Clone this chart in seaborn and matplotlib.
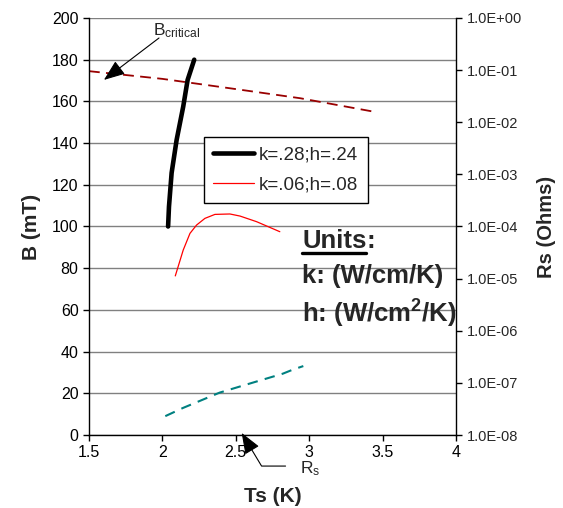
import matplotlib
matplotlib.use("Agg")
import matplotlib.pyplot as plt
import seaborn as sns
from matplotlib.lines import Line2D
from matplotlib.ticker import FixedLocator, FuncFormatter, NullLocator

# --- data ---
# k=.28;h=.24 (left axis, B in mT)
ts_k28 = [2.039, 2.045, 2.063, 2.097, 2.142, 2.172, 2.217]
b_k28 = [100.0, 109.5, 125.7, 141.5, 157.5, 170.3, 180.0]

# k=.06;h=.08 (left axis)
ts_k06 = [2.088, 2.142, 2.188, 2.233, 2.29, 2.358, 2.46, 2.529, 2.642, 2.80]
b_k06 = [76.3, 88.7, 96.7, 100.7, 103.9, 105.8, 106.0, 105.0, 102.3, 97.5]

# B critical (left axis)
ts_bc = [1.5, 2.0, 2.5, 2.94, 3.46]
b_bc = [174.5, 170.8, 165.9, 161.5, 154.8]

# Rs (right axis, Ohms)
ts_rs = [2.02, 2.14, 2.39, 2.60, 2.82, 2.89, 2.96]
rs = [2.3e-8, 3.3e-8, 6.5e-8, 9.8e-8, 1.5e-7, 1.8e-7, 2.1e-7]

x_ticks = [1.5, 2, 2.5, 3, 3.5, 4]
x_labels = ["1.5", "2", "2.5", "3", "3.5", "4"]
b_ticks = list(range(0, 201, 20))
rs_ticks = [1e-8, 1e-7, 1e-6, 1e-5, 1e-4, 1e-3, 1e-2, 1e-1, 1e0]

sns.set_style("ticks")
plt.rcParams["font.family"] = ["Liberation Sans", "DejaVu Sans"]
plt.rcParams["mathtext.default"] = "regular"

fig = plt.figure(figsize=(5.63, 5.08), dpi=100)
ax = fig.add_axes([0.158, 0.1437, 0.652, 0.8209])
ax2 = ax.twinx()

# --- left axis curves ---
sns.lineplot(x=ts_bc, y=b_bc, ax=ax, color="#990000", lw=1.3,
             linestyle=(0, (6, 3.5)), sort=False, estimator=None)
sns.lineplot(x=ts_k28, y=b_k28, ax=ax, color="black", lw=3.3,
             sort=False, estimator=None, label="k=.28;h=.24")
sns.lineplot(x=ts_k06, y=b_k06, ax=ax, color="red", lw=0.9,
             sort=False, estimator=None, label="k=.06;h=.08")

# --- right axis curve ---
sns.lineplot(x=ts_rs, y=rs, ax=ax2, color="#008080", lw=1.5,
             linestyle=(0, (5, 3.5)), sort=False, estimator=None)

ax.set_xlim(1.5, 4)
ax.set_ylim(0, 200)
ax.set_xticks(x_ticks)
ax.set_xticklabels(x_labels)
ax.set_yticks(b_ticks)
ax.yaxis.grid(True, color="#808080", lw=1)
ax.set_axisbelow(True)
ax.tick_params(axis="both", labelsize=11.5, direction="out", length=4,
               width=1, color="black", labelcolor="black")
ax.set_xlabel("Ts (K)", fontsize=15, fontweight="bold", labelpad=19)
ax.set_ylabel("B (mT)", fontsize=15, fontweight="bold", labelpad=8)

ax2.set_yscale("log")
ax2.set_ylim(1e-8, 1)
ax2.yaxis.set_major_locator(FixedLocator(rs_ticks))
ax2.yaxis.set_minor_locator(NullLocator())
ax2.yaxis.set_major_formatter(FuncFormatter(lambda v, p: f"{v:.1E}"))
ax2.tick_params(axis="y", labelsize=10.5, direction="out", length=4,
                width=1, color="black")
ax2.set_ylabel("Rs (Ohms)", fontsize=14.5, fontweight="bold", labelpad=11)

for a in (ax, ax2):
    a.spines["top"].set_visible(False)
    for s in ("left", "bottom", "right"):
        a.spines[s].set_color("black")
        a.spines[s].set_linewidth(1)
ax.spines["right"].set_visible(False)
ax2.spines["left"].set_visible(False)
ax2.spines["bottom"].set_visible(False)

# --- legend ---
handles = ax.lines[1:3]
leg = ax.legend(handles=handles, labels=["k=.28;h=.24", "k=.06;h=.08"],
                loc="upper left", bbox_to_anchor=(0.313, 0.715),
                borderaxespad=0, fontsize=13.5, handlelength=2.2,
                handletextpad=0.25, labelspacing=0.7, borderpad=0.5,
                fancybox=False, framealpha=1, edgecolor="black")
leg.get_frame().set_linewidth(1)

# --- annotations ---
arrow_style = "-|>,head_length=1.3,head_width=0.5"
ax.text(1.936, 191.8, "B$_{critical}$", fontsize=12.5, ha="left", va="baseline")
ax.annotate("", xy=(1.602, 170.3), xytext=(1.977, 190.4),
            arrowprops=dict(arrowstyle=arrow_style, color="black", lw=0.8,
                            shrinkA=0, shrinkB=0, mutation_scale=10))

ax.text(2.937, -18.2, "R$_s$", fontsize=12.5, ha="left", va="baseline",
        clip_on=False)
ax.annotate("", xy=(2.54, 1.0), xytext=(2.839, -14.9),
            annotation_clip=False,
            arrowprops=dict(arrowstyle=arrow_style, color="black", lw=0.8,
                            shrinkA=0, shrinkB=0, mutation_scale=10,
                            connectionstyle="angle,angleA=0,angleB=121,rad=0"))

# --- units block ---
ux = 2.951
fs_units = 18.5
t_units = ax.text(ux, 89.7, "Units", fontsize=fs_units, fontweight="bold",
                  ha="left", va="baseline")
ax.text(ux, 72.9, "k: (W/cm/K)", fontsize=fs_units, fontweight="bold",
        ha="left", va="baseline")
ax.text(ux, 53.7, "h: (W/cm$^2$/K)", fontsize=fs_units, fontweight="bold",
        ha="left", va="baseline")

fig.canvas.draw()
renderer = fig.canvas.get_renderer()
bb = t_units.get_window_extent(renderer)
base = ax.transData.transform((ux, 89.7))[1]
inv = fig.transFigure.inverted()
colon_pos = inv.transform((bb.x1, base))
fig.text(colon_pos[0], colon_pos[1], ":", fontsize=fs_units,
         fontweight="bold", ha="left", va="baseline")
p0 = inv.transform((bb.x0, base - 5))
p1 = inv.transform((bb.x1, base - 5))
fig.add_artist(Line2D([p0[0], p1[0]], [p0[1], p1[1]], color="black",
                      lw=2.4, transform=fig.transFigure))

fig.savefig("out.png", dpi=100)
